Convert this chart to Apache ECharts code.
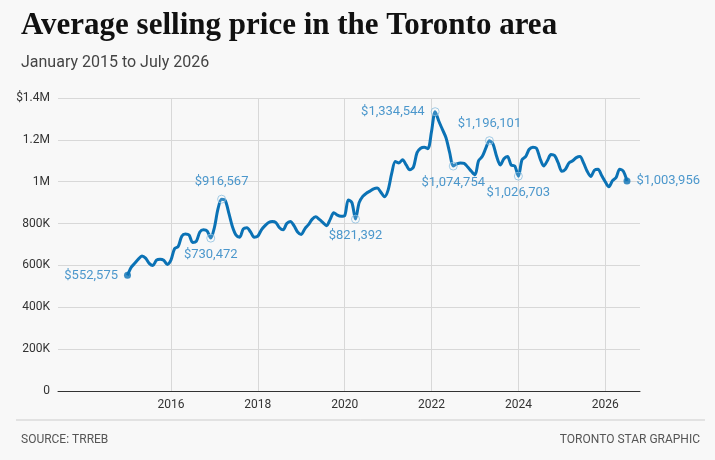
<!DOCTYPE html>
<html>
<head>
<meta charset="utf-8">
<title>Toronto average price</title>
<script src="https://cdn.jsdelivr.net/npm/echarts@6/dist/echarts.min.js"></script>
<style>
  body { margin:0; background:#f8f8f8; }
  #main { width:715px; height:460px; }
</style>
</head>
<body>
<div id="main"></div>
<script>
// monthly average selling price, Jan 2015 .. Jul 2026
var y2015 = [552575, 590000, 610000, 630000, 645000, 635000, 610000, 600000, 625000, 630000, 625000, 605000];
var y2016 = [625000, 680000, 690000, 740000, 750000, 745000, 710000, 715000, 760000, 770000, 765000, 730472];
var y2017 = [780000, 870000, 916567, 910000, 850000, 785000, 745000, 735000, 775000, 780000, 760000, 735000];
var y2018 = [740000, 770000, 790000, 805000, 810000, 805000, 780000, 770000, 800000, 810000, 790000, 760000];
var y2019 = [748000, 775000, 795000, 820000, 832000, 820000, 805000, 790000, 820000, 852000, 840000, 835000];
var y2020 = [838000, 913000, 900000, 821392, 900000, 930000, 945000, 955000, 966000, 970000, 950000, 928000];
var y2021 = [960000, 1040000, 1096000, 1090000, 1105000, 1080000, 1057000, 1070000, 1139000, 1160000, 1165000, 1158000];
var y2022 = [1240000, 1334544, 1290000, 1250000, 1210000, 1140000, 1074754, 1085000, 1090000, 1088000, 1070000, 1050000];
var y2023 = [1033000, 1100000, 1120000, 1160000, 1196101, 1180000, 1120000, 1080000, 1110000, 1120000, 1080000, 1075000];
var y2024 = [1026703, 1105000, 1120000, 1155000, 1165000, 1160000, 1110000, 1075000, 1100000, 1130000, 1125000, 1090000];
var y2025 = [1050000, 1060000, 1090000, 1100000, 1115000, 1120000, 1090000, 1050000, 1025000, 1055000, 1060000, 1030000];
var y2026 = [1000000, 976000, 1005000, 1020000, 1060000, 1050000, 1003956];

var years = [y2015, y2016, y2017, y2018, y2019, y2020, y2021, y2022, y2023, y2024, y2025, y2026];
var startYear = 2015;

// annotated points: [year, month(1-12), label position]
var notes = [
  [2015, 1, 'left'], [2016, 12, 'bottom'], [2017, 3, 'top'], [2020, 4, 'bottom'],
  [2022, 2, 'left'], [2022, 7, 'bottom'], [2023, 5, 'top'], [2024, 1, 'bottom'], [2026, 7, 'right']
];

var yTicks = [0, 200000, 400000, 600000, 800000, 1000000, 1200000, 1400000];
var yLabels = ['0', '200K', '400K', '600K', '800K', '1M', '1.2M', '$1.4M'];
var xTicks = [2016, 2018, 2020, 2022, 2024, 2026];

var lineData = [];
years.forEach(function (arr, i) {
  arr.forEach(function (v, m) { lineData.push([startYear + i + m / 12, v]); });
});

function fmt(v) { return '$' + v.toLocaleString('en-US'); }

var noteData = notes.map(function (n) {
  var v = years[n[0] - startYear][n[1] - 1];
  var ends = (n[0] === 2015 && n[1] === 1) || (n[0] === 2026 && n[1] === 7);
  return {
    value: [n[0] + (n[1] - 1) / 12, v],
    symbolSize: ends ? 7 : 8,
    itemStyle: ends ? { color: '#0b72b5', borderWidth: 0 } : { color: 'rgba(255,255,255,0.2)', borderColor: '#8cbfe0', borderWidth: 1 },
    label: { show: true, position: n[2], formatter: fmt(v), distance: 6 }
  };
});

var chart = echarts.init(document.getElementById('main'));
chart.setOption({
  backgroundColor: '#f8f8f8',
  animation: false,
  title: [
    { text: 'Average selling price in the Toronto area', left: 16, top: 5,
      textStyle: { fontFamily: 'Liberation Serif', fontWeight: 'bold', fontSize: 31, color: '#111' } },
    { text: 'January 2015 to July 2026', left: 16, top: 50,
      textStyle: { fontFamily: 'Roboto', fontWeight: 'normal', fontSize: 16, color: '#444' } },
    { text: 'SOURCE: TRREB', left: 16, top: 429,
      textStyle: { fontFamily: 'Roboto', fontWeight: 'normal', fontSize: 12, color: '#555' } },
    { text: 'TORONTO STAR GRAPHIC', right: 10, top: 429,
      textStyle: { fontFamily: 'Roboto', fontWeight: 'normal', fontSize: 12, color: '#555' } }
  ],
  graphic: [{ type: 'line', shape: { x1: 16, y1: 420, x2: 705, y2: 420 }, style: { stroke: '#ccc', lineWidth: 1 } }],
  grid: { left: 58, right: 75, top: 98, bottom: 69 },
  xAxis: {
    type: 'value', min: 2013.4, max: 2026.8,
    axisLine: { show: true, lineStyle: { color: '#333' } },
    axisTick: { show: false, customValues: xTicks },
    axisLabel: { customValues: xTicks, color: '#333', fontFamily: 'Roboto', fontSize: 12, formatter: function (v) { return String(Math.round(v)); } },
    splitLine: { show: true, lineStyle: { color: '#d8d8d8' } }
  },
  yAxis: {
    type: 'value', min: 0, max: 1400000, interval: 200000,
    axisLine: { show: false }, axisTick: { show: false },
    axisLabel: { color: '#333', fontFamily: 'Roboto', fontSize: 12,
      formatter: function (v) { return yLabels[yTicks.indexOf(v)]; } },
    splitLine: { lineStyle: { color: '#d8d8d8' } }
  },
  series: [
    { type: 'line', data: lineData, showSymbol: false, smooth: 0.3,
      lineStyle: { color: '#0b72b5', width: 3 }, z: 2 },
    { type: 'scatter', data: noteData, z: 3,
      label: { color: '#1f7ec0', fontFamily: 'Roboto', fontSize: 13 } }
  ]
});
</script>
</body>
</html>
